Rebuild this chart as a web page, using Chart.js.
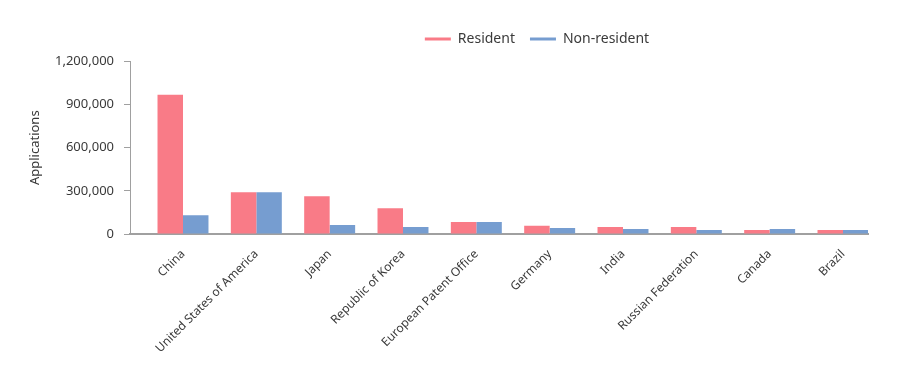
<!DOCTYPE html>
<html>
<head>
<meta charset="utf-8">
<script src="https://cdn.jsdelivr.net/npm/chart.js@4.4.1/dist/chart.umd.min.js"></script>
<style>
  html, body { margin: 0; padding: 0; background: #fff; }
  #wrap { width: 900px; height: 380px; position: relative; }
</style>
</head>
<body>
<div id="wrap"><canvas id="c" width="900" height="380"></canvas></div>
<script>
const categories = ['China', 'United States of America', 'Japan', 'Republic of Korea', 'European Patent Office', 'Germany', 'India', 'Russian Federation', 'Canada', 'Brazil'];
const resident = [968000, 290000, 262000, 180000, 83000, 57000, 48000, 48000, 28000, 28000];
const nonResident = [131000, 290000, 62000, 48000, 83000, 41000, 35000, 28000, 35000, 28000];
const seriesNames = ['Resident', 'Non-resident'];
const yTicks = [0, 300000, 600000, 900000, 1200000];
const yTitle = 'Applications';

const FONT = "'Noto Sans', 'Open Sans', sans-serif";
const TEXT = '#3a3a3a';
const AXIS = '#a0a0a0';

const legendShift = {
  id: 'legendShift',
  afterLayout(chart) {
    const lg = chart.legend;
    if (!lg) return;
    const dx = 93, dy = -5.5;
    lg.left += dx; lg.right += dx;
    lg.top += dy; lg.bottom += dy;
  }
};

new Chart(document.getElementById('c'), {
  type: 'bar',
  data: {
    datasets: [
      { label: seriesNames[0], data: resident.map((v, i) => ({ x: i, y: v })), backgroundColor: '#f97b87', borderWidth: 0 },
      { label: seriesNames[1], data: nonResident.map((v, i) => ({ x: i, y: v })), backgroundColor: '#769dd0', borderWidth: 0 }
    ]
  },
  plugins: [legendShift],
  options: {
    responsive: false,
    animation: false,
    devicePixelRatio: 1,
    categoryPercentage: 0.695,
    barPercentage: 1.0,
    layout: { padding: { left: 20, right: 32, top: 22.5, bottom: 10 } },
    plugins: {
      tooltip: { enabled: false },
      legend: {
        position: 'top',
        align: 'center',
        labels: {
          font: { family: FONT, size: 14 },
          color: TEXT,
          boxWidth: 26,
          boxHeight: 3,
          padding: 15
        }
      }
    },
    scales: {
      x: {
        type: 'linear',
        min: -0.7227,
        max: 9.341,
        offset: false,
        grid: { display: false },
        border: { display: true, color: AXIS, width: 2 },
        afterBuildTicks(scale) {
          scale.ticks = categories.map((c, i) => ({ value: i }));
        },
        afterFit(scale) { scale.height = 380 - 234 - 10; },
        ticks: {
          autoSkip: false,
          minRotation: 45,
          maxRotation: 45,
          padding: 5,
          color: TEXT,
          font: { family: FONT, size: 12 },
          callback: (v) => categories[v]
        }
      },
      y: {
        min: 0,
        max: 1200000,
        afterBuildTicks(scale) {
          scale.ticks = yTicks.map(v => ({ value: v }));
        },
        afterFit(scale) { scale.width = 130 - 20; },
        grid: { drawOnChartArea: false, drawTicks: true, tickLength: 6, color: AXIS, lineWidth: 1 },
        border: { display: true, color: AXIS, width: 1 },
        ticks: {
          color: TEXT,
          padding: 10,
          font: { family: FONT, size: 13 },
          callback: (v) => v.toLocaleString('en-US')
        },
        title: {
          display: true,
          text: yTitle,
          color: TEXT,
          font: { family: FONT, size: 13 },
          padding: { top: 7, bottom: 0 }
        }
      }
    }
  }
});
</script>
</body>
</html>
